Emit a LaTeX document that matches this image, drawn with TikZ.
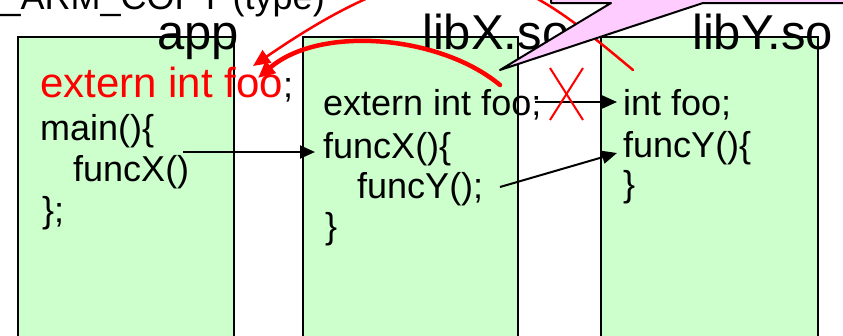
\documentclass[tikz,border=0pt]{standalone}
\usepackage{fontspec}
\setmainfont{Liberation Sans}
\usetikzlibrary{arrows.meta}
\definecolor{boxgreen}{HTML}{CCFFCC}
\definecolor{calloutpink}{HTML}{FFCCFF}
\definecolor{linkred}{HTML}{FF0000}
\begin{document}
\begin{tikzpicture}[x=1pt,y=-1pt,
  libbox/.style={draw=black, line width=2pt, fill=boxgreen, anchor=north west, inner sep=0pt, minimum height=320pt},
  code/.style={inner sep=0pt, anchor=base west, font=\fontsize{36}{40}\selectfont},
  title/.style={inner sep=0pt, anchor=base west, font=\fontsize{49}{54}\selectfont},
  callarrow/.style={line width=2pt, -{Triangle[length=15pt,width=13pt]}},
  redlink/.style={draw=linkred, line cap=round, -{Triangle[length=17pt,width=15pt]}},
  crossline/.style={draw=linkred, line width=2pt},
  callout/.style={draw=black, line width=2pt, fill=calloutpink, line join=round}
]
\useasboundingbox (0,0) rectangle (843,335);
\clip (0,0) rectangle (843,335);

% boxes
\node[libbox, minimum width=216pt] (appbox) at (17,36) {};
\node[libbox, minimum width=215pt] (libxbox) at (302,36) {};
\node[libbox, minimum width=217pt] (libybox) at (600,36) {};

% code in app
\node[code] (appfoo) at (40,97) {\textcolor{linkred}{\fontsize{42}{46}\selectfont extern int foo};};
\node[code] (appmain) at (40,140) {main()\{};
\node[code] (appfx) at (73,181) {funcX()};
\node[code] (append) at (42,222) {\};};

% code in libX.so
\node[code] (xfoo) at (323,115) {extern int foo;};
\node[code] (xfx) at (323,158) {funcX()\{};
\node[code] (xfy) at (357,198) {funcY();};
\node[code] (xend) at (325,238) {\}};

% code in libY.so
\node[code] (yfoo) at (623,115) {int foo;};
\node[code] (yfy) at (623,157) {funcY()\{};
\node[code] (yend) at (623,196) {\}};

% titles
\node[title] (tapp) at (157,49) {app};
\node[title] (tlibx) at (422,49) {libX.so};
\node[title] (tliby) at (692,49) {libY.so};

% black call arrows
\coordinate (fxfrom) at (183,152);
\coordinate (fxto) at (315,152);
\coordinate (foofrom) at (535,102);
\coordinate (footo) at (617,102);
\coordinate (fyfrom) at (500,187);
\coordinate (fyto) at (617,153);
\draw[callarrow] (fxfrom) -- (fxto);
\draw[callarrow] (foofrom) -- (footo);
\draw[callarrow] (fyfrom) -- (fyto);

% red cross
\coordinate (xa) at (550,68);
\coordinate (xb) at (583,120);
\coordinate (xc) at (583,68);
\coordinate (xd) at (550,120);
\draw[crossline] (xa) -- (xb);
\draw[crossline] (xc) -- (xd);

% red links to app's foo
\coordinate (yfoolink) at (633,70);
\coordinate (xfoolink) at (500,85);
\coordinate (apptip1) at (253,66);
\coordinate (apptip2) at (258,78);
\draw[redlink, line width=2.5pt] (yfoolink) .. controls (518,-26) and (458,-75) .. (apptip1);
\draw[redlink, line width=4.5pt] (xfoolink) .. controls (440,35) and (320,25) .. (apptip2);

% callout
\path[callout] (551,-10) -- (551,3) -- (611,3) -- (500,70) -- (703,3) -- (850,3) -- (850,-10) -- cycle;

% top text (clipped)
\node[inner sep=0pt, anchor=base east, font=\fontsize{36}{40}\selectfont] (reltype) at (325,9) {\_ARM\_COPY (type)};
\end{tikzpicture}
\end{document}
